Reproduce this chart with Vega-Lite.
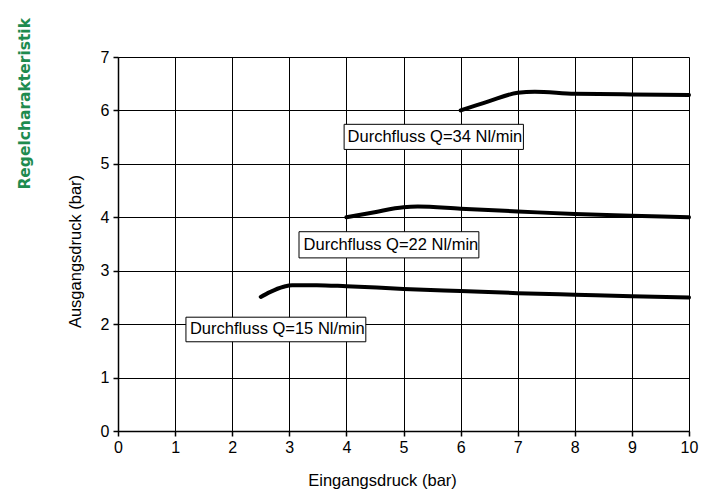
{
  "$schema": "https://vega.github.io/schema/vega-lite/v6.json",
  "width": 571,
  "height": 374,
  "autosize": {"type": "none"},
  "padding": {"left": 118, "top": 57, "right": 12, "bottom": 64},
  "background": "white",
  "title": {
    "text": "Regelcharakteristik",
    "orient": "left",
    "anchor": "end",
    "font": "DejaVu Sans",
    "fontWeight": "bold",
    "fontSize": 15.5,
    "color": "#1e8b4f",
    "offset": 34,
    "dx": 31
  },
  "config": {
    "view": {"stroke": null},
    "axis": {
      "grid": true,
      "gridColor": "black",
      "gridOpacity": 1,
      "gridWidth": 1,
      "domainColor": "black",
      "domainWidth": 1.5,
      "tickColor": "black",
      "tickSize": 5,
      "tickWidth": 1.5,
      "labelFont": "Liberation Sans",
      "labelFontSize": 16,
      "labelColor": "black",
      "labelFlush": false,
      "titleFont": "Liberation Sans",
      "titleFontSize": 16.5,
      "titleFontWeight": "normal",
      "titleColor": "black"
    },
    "axisX": {"titleX": 264, "titleY": 49, "titleBaseline": "middle", "labelPadding": 3, "tickCount": 10},
    "axisY": {"titleX": -43, "titleY": 194, "titleBaseline": "middle", "labelPadding": 4, "tickCount": 7}
  },
  "datasets": {
    "curves": [
      {"series": "Q15", "x": 2.5, "y": 2.51},
      {"series": "Q15", "x": 2.66, "y": 2.6},
      {"series": "Q15", "x": 2.9, "y": 2.7},
      {"series": "Q15", "x": 3.05, "y": 2.73},
      {"series": "Q15", "x": 3.48, "y": 2.73},
      {"series": "Q15", "x": 4.0, "y": 2.71},
      {"series": "Q15", "x": 5.0, "y": 2.66},
      {"series": "Q15", "x": 6.0, "y": 2.62},
      {"series": "Q15", "x": 7.0, "y": 2.58},
      {"series": "Q15", "x": 8.0, "y": 2.55},
      {"series": "Q15", "x": 9.0, "y": 2.52},
      {"series": "Q15", "x": 10.0, "y": 2.5},
      {"series": "Q22", "x": 4.0, "y": 4.0},
      {"series": "Q22", "x": 4.47, "y": 4.09},
      {"series": "Q22", "x": 5.0, "y": 4.19},
      {"series": "Q22", "x": 5.25, "y": 4.2},
      {"series": "Q22", "x": 6.0, "y": 4.16},
      {"series": "Q22", "x": 7.0, "y": 4.11},
      {"series": "Q22", "x": 8.0, "y": 4.06},
      {"series": "Q22", "x": 9.0, "y": 4.03},
      {"series": "Q22", "x": 10.0, "y": 4.0},
      {"series": "Q34", "x": 6.0, "y": 6.0},
      {"series": "Q34", "x": 6.49, "y": 6.17},
      {"series": "Q34", "x": 7.0, "y": 6.33},
      {"series": "Q34", "x": 7.3, "y": 6.35},
      {"series": "Q34", "x": 8.0, "y": 6.31},
      {"series": "Q34", "x": 9.0, "y": 6.3},
      {"series": "Q34", "x": 10.0, "y": 6.29}
    ],
    "labels": [
      {"label": "Durchfluss Q=15 Nl/min", "x0": 1.19, "x1": 4.34, "y0": 1.67, "y1": 2.13, "tx": 1.26, "ty": 1.9},
      {"label": "Durchfluss Q=22 Nl/min", "x0": 3.17, "x1": 6.32, "y0": 3.24, "y1": 3.73, "tx": 3.25, "ty": 3.48},
      {"label": "Durchfluss Q=34 Nl/min", "x0": 3.96, "x1": 7.1, "y0": 5.27, "y1": 5.74, "tx": 4.02, "ty": 5.51}
    ]
  },
  "layer": [
    {
      "data": {"name": "curves"},
      "mark": {"type": "line", "interpolate": "monotone", "strokeWidth": 4, "strokeCap": "round", "strokeJoin": "round", "color": "black"},
      "encoding": {
        "x": {"field": "x", "type": "quantitative", "scale": {"domain": [0, 10], "nice": false}, "title": "Eingangsdruck (bar)"},
        "y": {"field": "y", "type": "quantitative", "scale": {"domain": [0, 7], "nice": false}, "title": "Ausgangsdruck (bar)"},
        "detail": {"field": "series", "type": "nominal"}
      }
    },
    {
      "data": {"name": "labels"},
      "mark": {"type": "rect", "fill": "white", "stroke": "black", "strokeWidth": 1},
      "encoding": {
        "x": {"field": "x0", "type": "quantitative", "title": "Eingangsdruck (bar)"},
        "x2": {"field": "x1"},
        "y": {"field": "y0", "type": "quantitative", "title": "Ausgangsdruck (bar)"},
        "y2": {"field": "y1"}
      }
    },
    {
      "data": {"name": "labels"},
      "mark": {"type": "text", "align": "left", "baseline": "middle", "font": "Liberation Sans", "fontSize": 16.5, "color": "black"},
      "encoding": {
        "x": {"field": "tx", "type": "quantitative", "title": "Eingangsdruck (bar)"},
        "y": {"field": "ty", "type": "quantitative", "title": "Ausgangsdruck (bar)"},
        "text": {"field": "label"}
      }
    }
  ]
}
